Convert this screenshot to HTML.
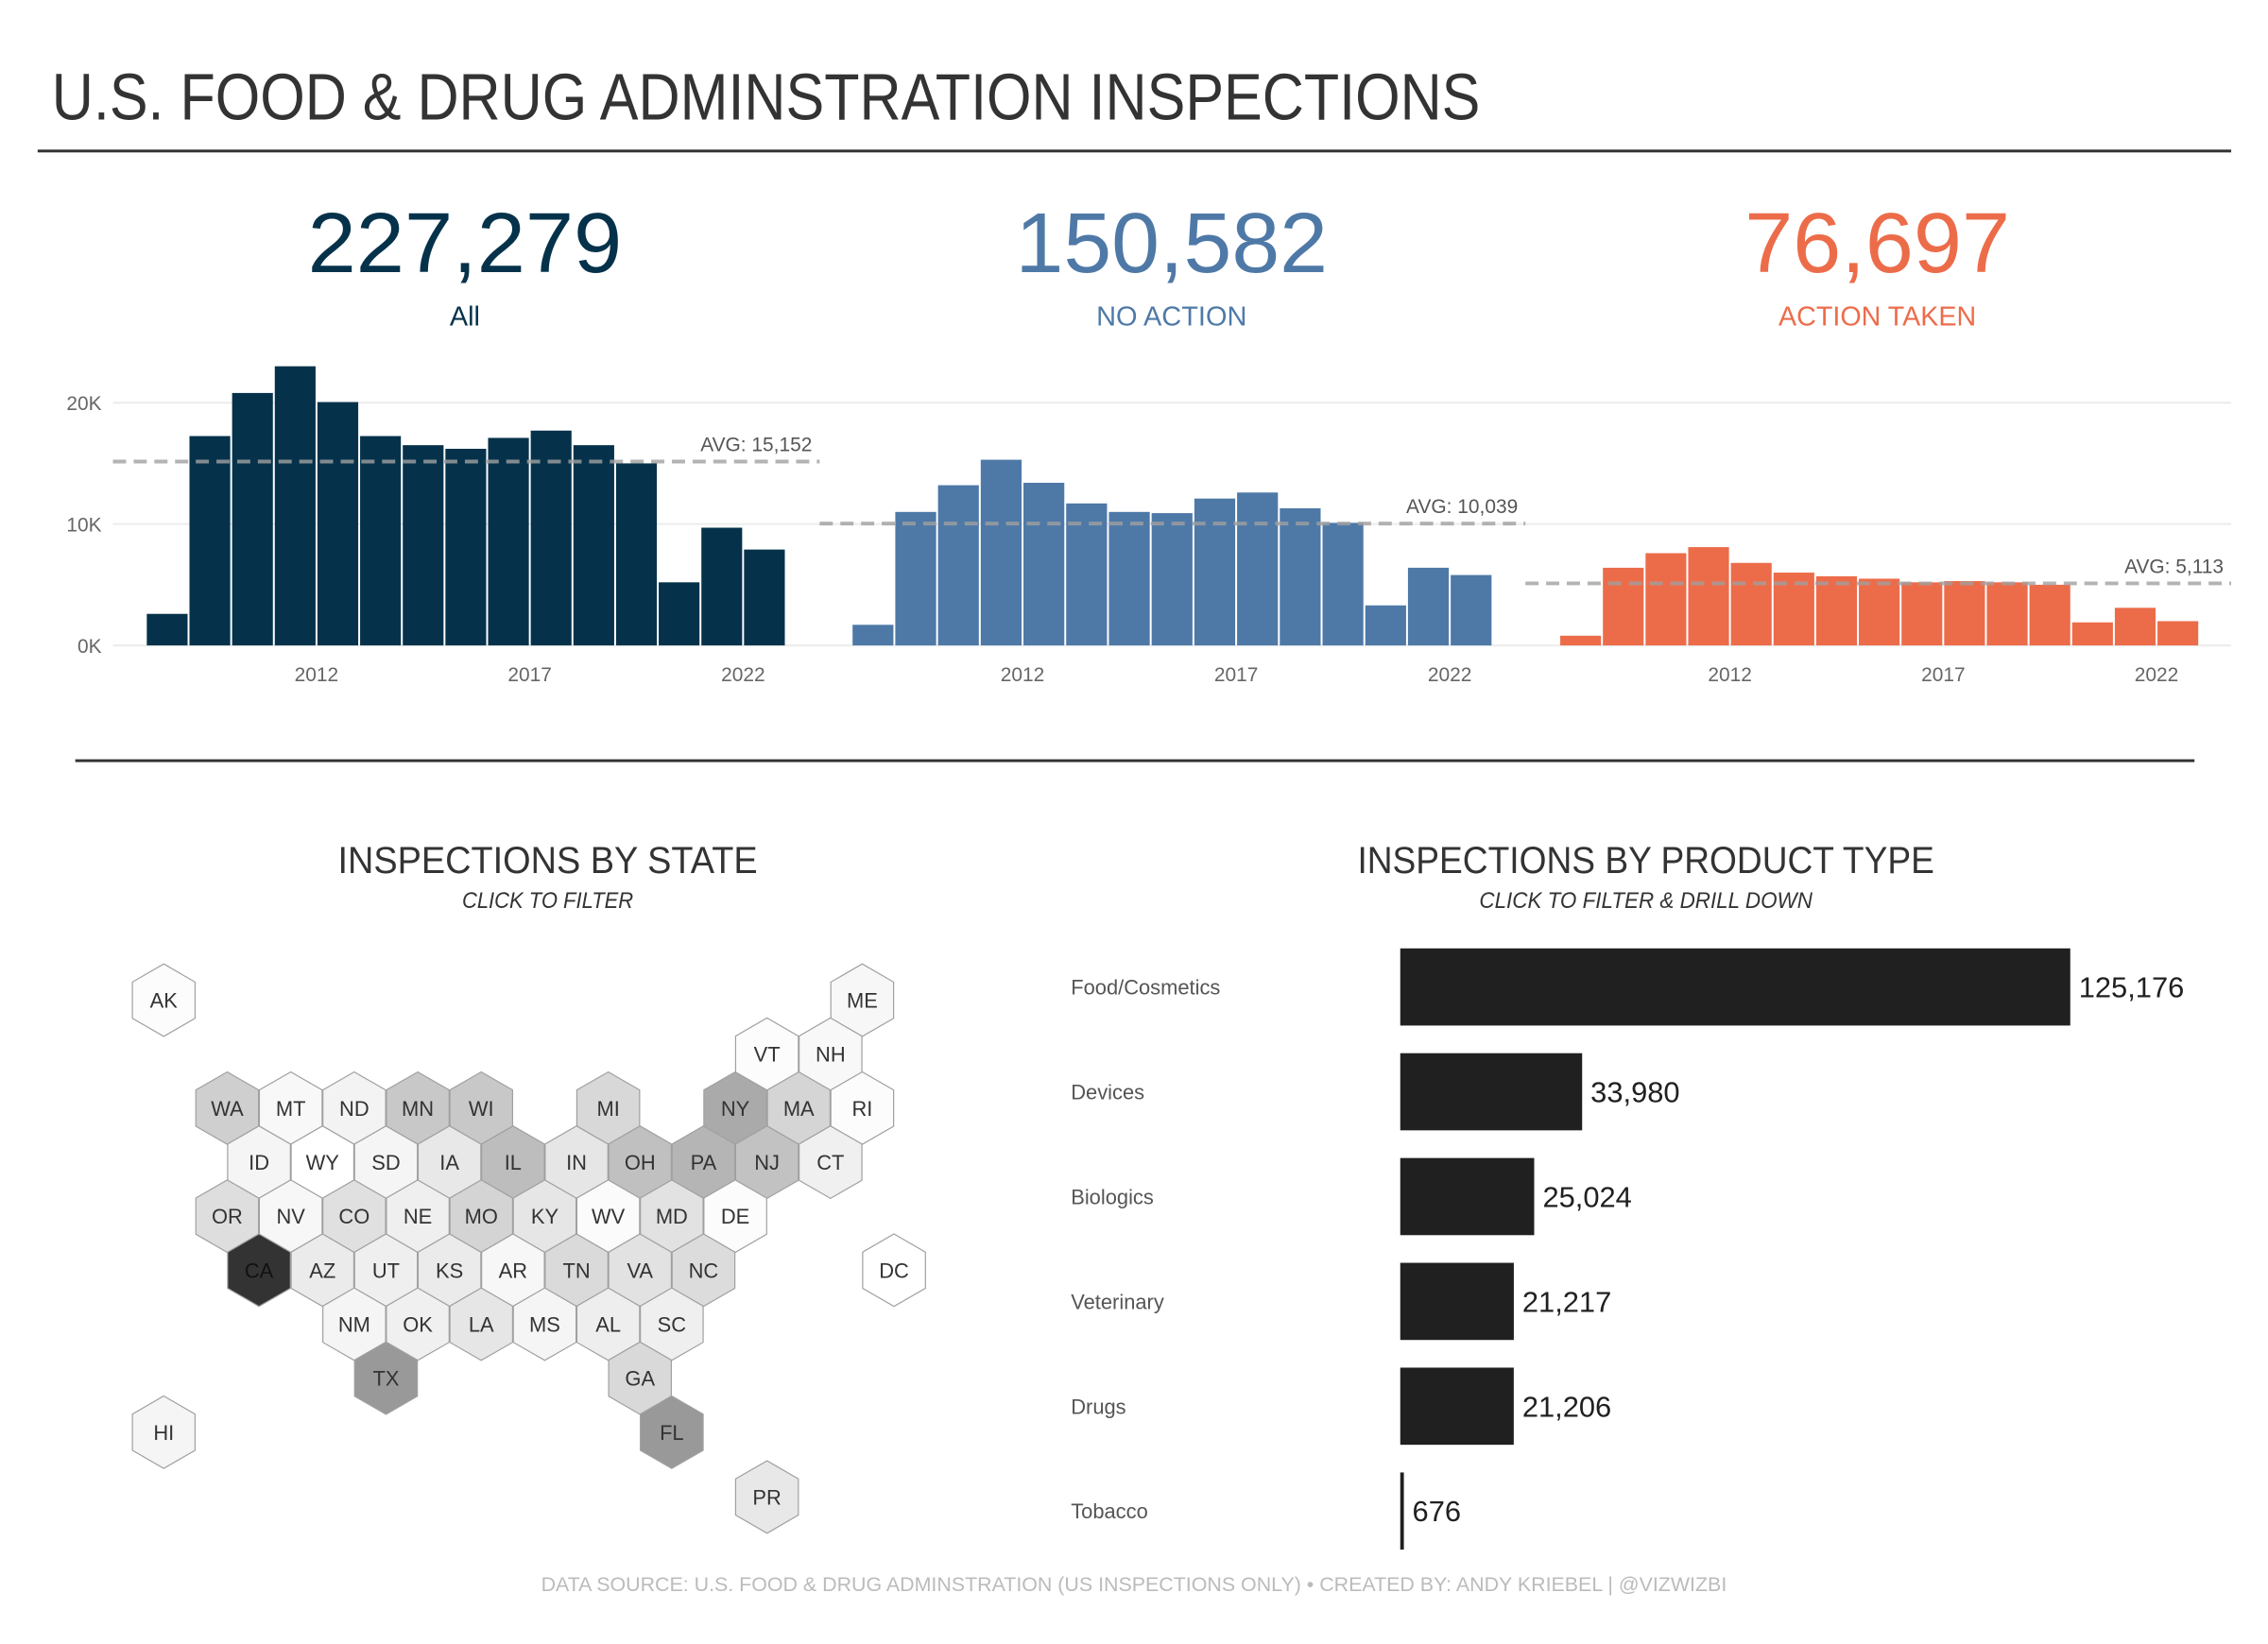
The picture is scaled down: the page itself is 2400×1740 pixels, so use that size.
<!DOCTYPE html>
<html><head><meta charset="utf-8"><style>
html,body{margin:0;padding:0;background:#fff;}
svg{display:block;font-family:"Liberation Sans",sans-serif;}
</style></head><body>
<svg id="dash" width="2400" height="1740" viewBox="0 0 2400 1740" xmlns="http://www.w3.org/2000/svg">
<g transform="scale(0.9958)">
<text x="55" y="127" font-size="70" fill="#333" textLength="1518" lengthAdjust="spacingAndGlyphs">U.S. FOOD &amp; DRUG ADMINSTRATION INSPECTIONS</text>
<rect x="40" y="159" width="2331" height="3" fill="#333"/>
<text x="494" y="289" font-size="90" fill="#05324a" text-anchor="middle" textLength="334" lengthAdjust="spacingAndGlyphs">227,279</text>
<text x="494" y="346" font-size="29" fill="#05324a" text-anchor="middle">All</text>
<text x="1245" y="289" font-size="90" fill="#4e79a7" text-anchor="middle" textLength="332" lengthAdjust="spacingAndGlyphs">150,582</text>
<text x="1245" y="346" font-size="29" fill="#4e79a7" text-anchor="middle" textLength="160" lengthAdjust="spacingAndGlyphs">NO ACTION</text>
<text x="1995" y="289" font-size="90" fill="#ec6c4a" text-anchor="middle" textLength="282" lengthAdjust="spacingAndGlyphs">76,697</text>
<text x="1995" y="346" font-size="29" fill="#ec6c4a" text-anchor="middle" textLength="210" lengthAdjust="spacingAndGlyphs">ACTION TAKEN</text>
<g id="trend"></g>
<rect x="80" y="807" width="2252" height="3" fill="#333"/>
<text x="582" y="928" font-size="40" fill="#333" text-anchor="middle" textLength="446" lengthAdjust="spacingAndGlyphs">INSPECTIONS BY STATE</text>
<text x="582" y="965" font-size="24" font-style="italic" fill="#333" text-anchor="middle" textLength="182" lengthAdjust="spacingAndGlyphs">CLICK TO FILTER</text>
<text x="1749" y="928" font-size="40" fill="#333" text-anchor="middle" textLength="613" lengthAdjust="spacingAndGlyphs">INSPECTIONS BY PRODUCT TYPE</text>
<text x="1749" y="965" font-size="24" font-style="italic" fill="#333" text-anchor="middle" textLength="354" lengthAdjust="spacingAndGlyphs">CLICK TO FILTER &amp; DRILL DOWN</text>
<g id="hexmap"></g>
<g id="products"></g>
<text x="1205" y="1691" font-size="21" fill="#bbb" text-anchor="middle" textLength="1260" lengthAdjust="spacingAndGlyphs">DATA SOURCE: U.S. FOOD &amp; DRUG ADMINSTRATION (US INSPECTIONS ONLY)  •  CREATED BY: ANDY KRIEBEL | @VIZWIZBI</text>
</g>
</svg>
<script>
const years = [2008,2009,2010,2011,2012,2013,2014,2015,2016,2017,2018,2019,2020,2021,2022];
const allValues = [2.6,17.25,20.8,23.0,20.05,17.25,16.5,16.2,17.1,17.7,16.5,15.0,5.2,9.7,7.9];
const noActionValues = [1.7,11.0,13.2,15.3,13.4,11.7,11.0,10.9,12.1,12.6,11.3,10.1,3.3,6.4,5.8];
const actionValues = [0.8,6.4,7.6,8.1,6.8,6.0,5.7,5.5,5.2,5.3,5.2,5.0,1.9,3.1,2.0];
const avgValues = [15152,10039,5113];
const yTicks = [0,10,20];
const yTickLabels = ['0K','10K','20K'];
const xTickYears = [2012,2017,2022];

const products = ['Food/Cosmetics','Devices','Biologics','Veterinary','Drugs','Tobacco'];
const productValues = [125176,33980,25024,21217,21206,676];

const states = ['AK','ME','VT','NH','WA','MT','ND','MN','WI','MI','NY','MA','RI','ID','WY','SD','IA','IL','IN','OH','PA','NJ','CT','OR','NV','CO','NE','MO','KY','WV','MD','DE','CA','AZ','UT','KS','AR','TN','VA','NC','DC','NM','OK','LA','MS','AL','SC','TX','GA','HI','FL','PR'];
const stateCols = [0,22,19,21,2,4,6,8,10,14,18,20,22,3,5,7,9,11,13,15,17,19,21,2,4,6,8,10,12,14,16,18,3,5,7,9,11,13,15,17,23,6,8,10,12,14,16,7,15,0,16,19];
const stateRows = [0,0,1,1,2,2,2,2,2,2,2,2,2,3,3,3,3,3,3,3,3,3,3,4,4,4,4,4,4,4,4,4,5,5,5,5,5,5,5,5,5,6,6,6,6,6,6,7,7,8,8,9.2];
const stateShades = [252,247,252,248,207,248,243,200,200,216,170,213,252,245,255,245,232,189,230,192,181,194,240,222,247,224,239,212,230,251,226,252,51,235,239,235,247,218,226,220,255,245,240,230,245,238,239,153,217,245,153,232];

const NS='http://www.w3.org/2000/svg';
function mk(tag, parent, attrs){const e=document.createElementNS(NS,tag);for(const k in attrs)e.setAttribute(k,attrs[k]);parent.appendChild(e);return e;}

const trend=document.getElementById('trend');
const y0=686, pxPerK=12.9;
function yScale(k){return y0-k*pxPerK;}
yTicks.forEach((t,i)=>{
  const g=mk('line',trend,{x1:120,x2:2371,y1:yScale(t),y2:yScale(t),stroke:'#ececec','stroke-width':2});
  
  
  const tx=mk('text',trend,{x:108,y:yScale(t)+8,'font-size':21,fill:'#666','text-anchor':'end'});
  tx.textContent=yTickLabels[i];
  
  
});
const panels=[
  {vals:allValues,color:'#05324a',x0:155,x1:835,ax0:120,ax1:871,name:'all'},
  {vals:noActionValues,color:'#4e79a7',x0:905,x1:1586,ax0:871,ax1:1621,name:'no-action'},
  {vals:actionValues,color:'#ec6c4a',x0:1657,x1:2337,ax0:1621,ax1:2371,name:'action-taken'}
];
panels.forEach((p,pi)=>{
  const bw=(p.x1-p.x0)/years.length;
  function xScale(yr){return p.x0+(yr-years[0])*bw;}
  p.vals.forEach((v,i)=>{
    const r=mk('rect',trend,{x:xScale(years[i])+1,y:yScale(v),width:bw-2,height:y0-yScale(v),fill:p.color});
    
    
  });
  xTickYears.forEach(yr=>{
    const t=mk('text',trend,{x:xScale(yr),y:724,'font-size':21,fill:'#666','text-anchor':'middle'});
    t.textContent=yr;
    
    
  });
  const ay=yScale(avgValues[pi]/1000);
  const l=mk('line',trend,{x1:p.ax0,x2:p.ax1,y1:ay,y2:ay,stroke:'rgba(160,160,160,0.8)','stroke-width':4,'stroke-dasharray':'14 8'});
  
  
  const at=mk('text',trend,{x:p.ax1-8,y:ay-11,'font-size':21,fill:'#555','text-anchor':'end'});
  at.textContent='AVG: '+avgValues[pi].toLocaleString('en-US');
  
  
});

const hm=document.getElementById('hexmap');
const hx0=174, hdx=33.74, hy0=1063, hdy=57.4, R=38.5;
states.forEach((s,i)=>{
  const cx=hx0+stateCols[i]*hdx, cy=hy0+stateRows[i]*hdy;
  const pts=[];
  for(let k=0;k<6;k++){const a=Math.PI/180*(60*k-90);pts.push((cx+R*Math.cos(a)).toFixed(1)+','+(cy+R*Math.sin(a)).toFixed(1));}
  const sh=stateShades[i];
  const poly=mk('polygon',hm,{points:pts.join(' '),fill:'rgb('+sh+','+sh+','+sh+')',stroke:'#a0a0a0','stroke-width':1.2});
  
  
  const t=mk('text',hm,{x:cx,y:cy+8,'font-size':22,fill:sh<80?'#111':'#333','text-anchor':'middle'});
  t.textContent=s;
  
  
});

const pg=document.getElementById('products');
const bx0=1488, pxPerUnit=712/125176, rowY0=1049, rowDy=111.4, bh=82;
function bScale(v){return v*pxPerUnit;}
products.forEach((p,i)=>{
  const cy=rowY0+i*rowDy;
  const lt=mk('text',pg,{x:1138,y:cy+8,'font-size':22,fill:'#555'});
  lt.textContent=p;
  
  
  const w=Math.max(3,bScale(productValues[i]));
  const r=mk('rect',pg,{x:bx0,y:cy-bh/2,width:w,height:bh,fill:'#202020'});
  
  
  const vt=mk('text',pg,{x:bx0+w+9,y:cy+11,'font-size':31,fill:'#202020'});
  vt.textContent=productValues[i].toLocaleString('en-US');
  
  
});
</script>
</body></html>
